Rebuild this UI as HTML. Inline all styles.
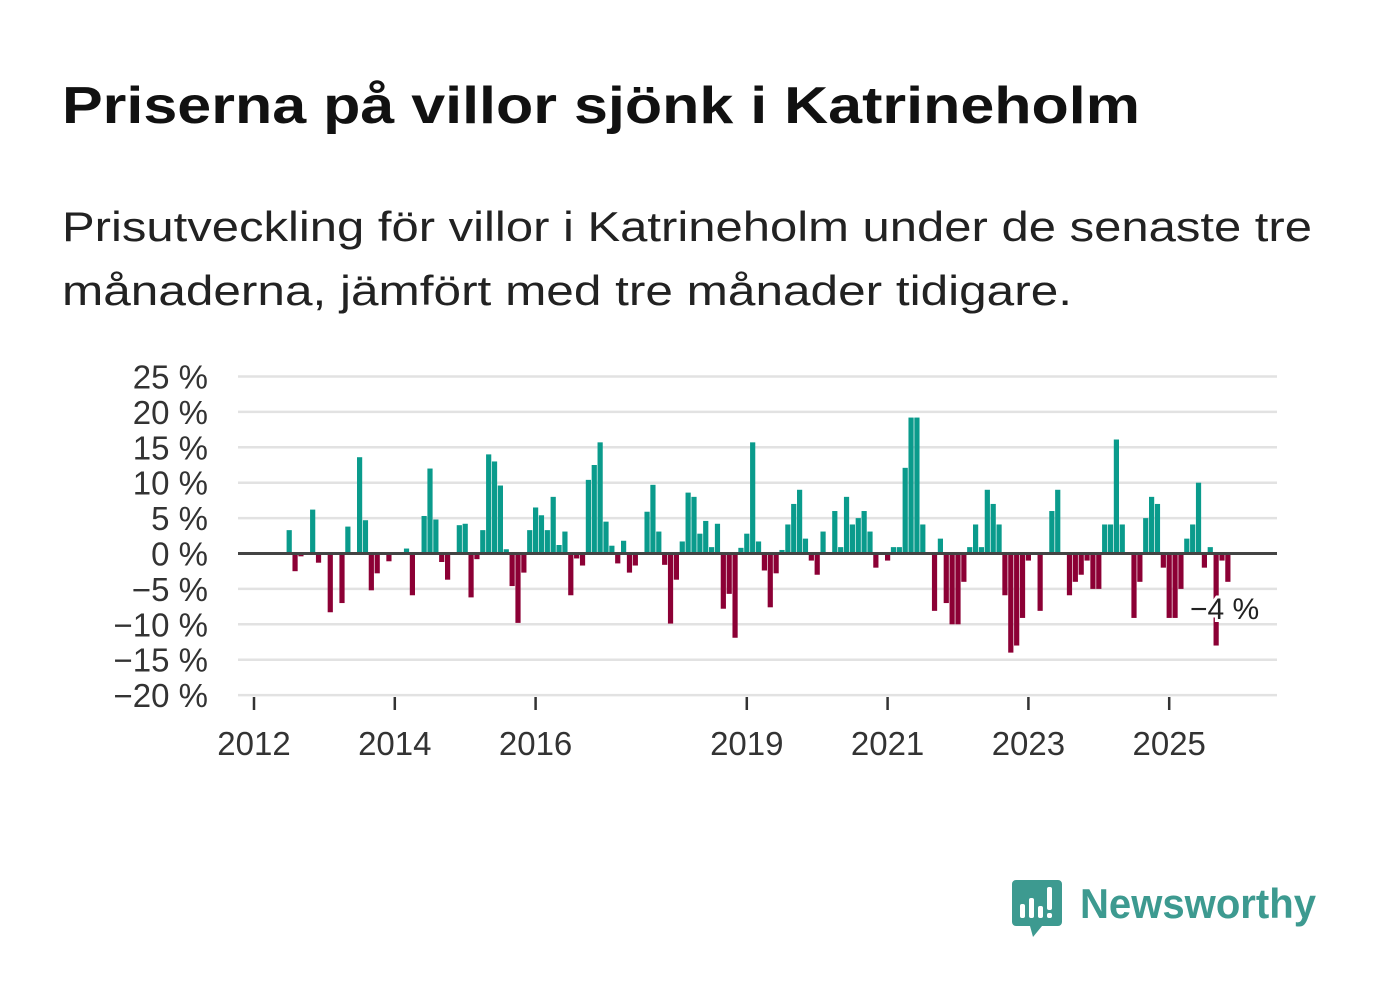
<!DOCTYPE html>
<html><head><meta charset="utf-8"><style>
html,body{margin:0;padding:0;background:#fff;}
svg{display:block;font-family:"Liberation Sans","DejaVu Sans",sans-serif;}
</style></head><body>
<svg id="chart" width="1382" height="999" viewBox="0 0 1382 999">
<text x="62" y="123" font-size="52" font-weight="bold" fill="#111" textLength="1078" lengthAdjust="spacingAndGlyphs">Priserna på villor sjönk i Katrineholm</text>
<text x="62" y="241" font-size="42" fill="#222" textLength="1250" lengthAdjust="spacingAndGlyphs">Prisutveckling för villor i Katrineholm under de senaste tre</text>
<text x="62" y="305" font-size="42" fill="#222" textLength="1010" lengthAdjust="spacingAndGlyphs">månaderna, jämfört med tre månader tidigare.</text>
<g id="grid"></g><g id="bars"></g><g id="axes"></g>
<g>
<path d="M1016 880 h42 a4 4 0 0 1 4 4 v38 a4 4 0 0 1 -4 4 h-16 l-9 11 l-3 -11 h-14 a4 4 0 0 1 -4 -4 v-38 a4 4 0 0 1 4 -4z" fill="#3d9a90"/>
<rect x="1020" y="904" width="5" height="14" rx="2" fill="#fff"/>
<rect x="1029" y="898" width="5" height="20" rx="2" fill="#fff"/>
<rect x="1038" y="906" width="5" height="12" rx="2" fill="#fff"/>
<rect x="1047" y="887" width="5" height="23" rx="2" fill="#fff"/>
<rect x="1047" y="913" width="5" height="5" rx="2" fill="#fff"/>
<text x="1080" y="918" font-size="42" font-weight="bold" fill="#3d9a90" textLength="236" lengthAdjust="spacingAndGlyphs">Newsworthy</text>
</g>
</svg>
<script>
const values = [3.3,-2.5,-0.4,0,6.2,-1.3,0,-8.3,0,-7.0,3.8,0,13.6,4.7,-5.2,-2.8,0,-1.1,0,0,0.7,-5.9,0,5.3,12.0,4.8,-1.2,-3.7,0,4.0,4.2,-6.2,-0.8,3.3,14.0,13.0,9.6,0.6,-4.6,-9.8,-2.7,3.3,6.5,5.4,3.3,8.0,1.2,3.1,-5.9,-0.7,-1.7,10.4,12.5,15.7,4.5,1.1,-1.4,1.8,-2.7,-1.7,0,5.9,9.7,3.1,-1.6,-9.9,-3.7,1.7,8.6,8.0,2.8,4.6,0.9,4.2,-7.8,-5.7,-11.9,0.8,2.8,15.7,1.7,-2.4,-7.6,-2.8,0.5,4.1,7.0,9.0,2.1,-1.0,-3.0,3.1,0,6.0,0.9,8.0,4.1,5.0,6.0,3.1,-2.0,0,-1.0,0.9,0.9,12.1,19.2,19.2,4.1,0,-8.1,2.1,-7.0,-10.0,-10.0,-4.0,0.9,4.1,0.9,9.0,7.0,4.1,-5.9,-14.0,-13.0,-9.1,-1.0,0,-8.1,0,6.0,9.0,0,-5.9,-4.0,-3.0,-1.0,-5.0,-5.0,4.1,4.1,16.1,4.1,0,-9.1,-4.0,5.0,8.0,7.0,-2.0,-9.1,-9.1,-5.0,2.1,4.1,10.0,-2.0,0.9,-13.0,-1.0,-4.0];
const startYear = 2012, startMonth = 6;
const yTicks = [25,20,15,10,5,0,-5,-10,-15,-20];
const xTicks = [2012,2014,2016,2019,2021,2023,2025];
const lastLabel = "\u22124 %";
const NS="http://www.w3.org/2000/svg";
const y = v => 553.5 - v*7.08;
const x = yr => 254 + (yr-2012)*70.4;
function mk(t,a,p){const e=document.createElementNS(NS,t);for(const k in a)e.setAttribute(k,a[k]);p.appendChild(e);return e;}
const grid=document.getElementById('grid'),bars=document.getElementById('bars'),axes=document.getElementById('axes');
yTicks.forEach(v=>{
  const l=mk('line',{x1:238,x2:1277,y1:y(v),y2:y(v),stroke:'#e2e2e2','stroke-width':2.5},grid);
  
  
  const t=mk('text',{x:208,y:y(v)+12,'text-anchor':'end','font-size':33,fill:'#333'},grid);
  t.textContent=(v<0?'\u2212'+(-v):v)+' %';
  
  
});
values.forEach((v,i)=>{
  const cx=x(startYear+(startMonth+i)/12);
  const top=Math.min(y(v),y(0)), h=Math.abs(y(v)-y(0));
  const r=mk('rect',{x:cx-2.6,y:top,width:5.2,height:h,fill:v>=0?'#0a9b8c':'#8c0035'},bars);
  
  
});
const z=mk('line',{x1:238,x2:1277,y1:y(0),y2:y(0),stroke:'#444','stroke-width':3},axes);


xTicks.forEach(yr=>{
  const tk=mk('line',{x1:x(yr),x2:x(yr),y1:697,y2:710,stroke:'#333','stroke-width':2.5},axes);
  
  
  const t=mk('text',{x:x(yr),y:755,'text-anchor':'middle','font-size':33,fill:'#333'},axes);
  t.textContent=yr;
  
  
});
const li=values.length-1;
const lbl=mk('text',{x:1190,y:y(values[li])+37,'font-size':30,fill:'#222',stroke:'#fff','stroke-width':6,'paint-order':'stroke'},axes);
lbl.textContent=lastLabel;


</script>
</body></html>
